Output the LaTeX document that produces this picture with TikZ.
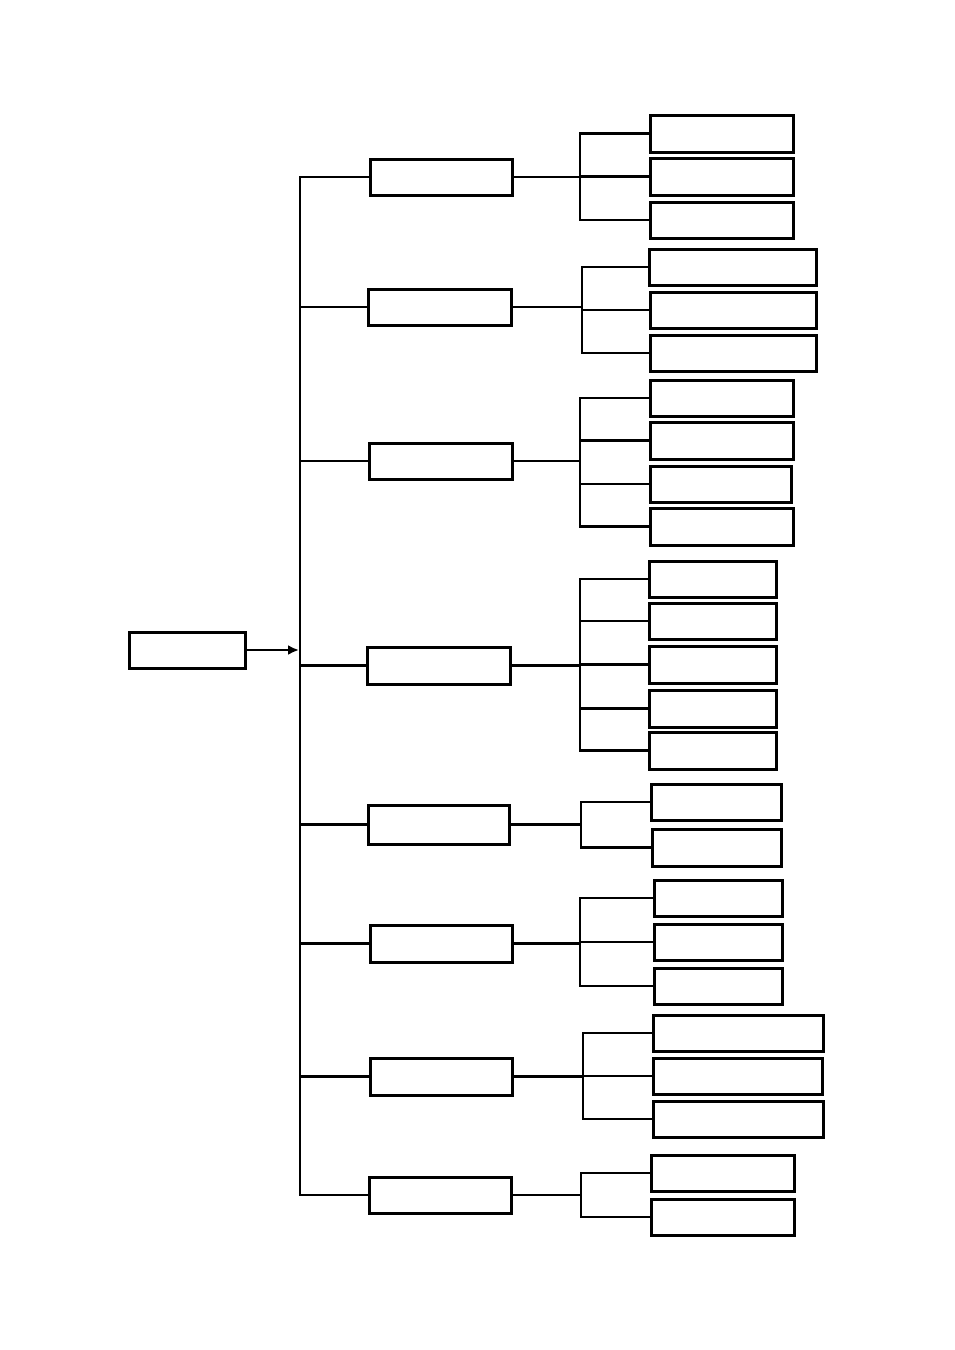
\documentclass[tikz,border=0pt]{standalone}
\usetikzlibrary{arrows.meta}
\newcommand\boxat[5]{\node[box, minimum width={#4pt-#2pt}, minimum height={#5pt-#3pt}] (#1) at ({(#2+#4)/2},{(#3+#5)/2}) {};}
\tikzset{
  box/.style={draw=black, line width=3pt, fill=white, inner sep=0pt, outer sep=0pt},
  ln/.style={draw=black, line width=2.6pt, line cap=rect},
}
\begin{document}
\begin{tikzpicture}[x=1pt,y=-1pt]
\useasboundingbox (0,0) rectangle (954,1350);
% root
\boxat{R}{129}{632}{245}{668}
% level 2
\boxat{B1}{370}{159}{512}{195}
\boxat{B2}{368}{289}{511}{325}
\boxat{B3}{369}{443}{512}{479}
\boxat{B4}{367}{647}{510}{684}
\boxat{B5}{368}{805}{509}{844}
\boxat{B6}{370}{925}{512}{962}
\boxat{B7}{370}{1058}{512}{1095}
\boxat{B8}{369}{1177}{511}{1213}
% leaves
\boxat{L11}{650}{115}{793}{152}
\boxat{L12}{650}{158}{793}{195}
\boxat{L13}{650}{202}{793}{238}
\boxat{L21}{649}{249}{816}{285}
\boxat{L22}{650}{292}{816}{328}
\boxat{L23}{650}{335}{816}{371}
\boxat{L31}{650}{380}{793}{416}
\boxat{L32}{650}{422}{793}{459}
\boxat{L33}{650}{466}{791}{502}
\boxat{L34}{650}{508}{793}{545}
\boxat{L41}{649}{561}{776}{597}
\boxat{L42}{649}{603}{776}{639}
\boxat{L43}{649}{646}{776}{683}
\boxat{L44}{649}{690}{776}{727}
\boxat{L45}{649}{732}{776}{769}
\boxat{L51}{651}{784}{781}{820}
\boxat{L52}{652}{829}{781}{866}
\boxat{L61}{654}{880}{782}{916}
\boxat{L62}{654}{924}{782}{960}
\boxat{L63}{654}{968}{782}{1004}
\boxat{L71}{653}{1015}{823}{1051}
\boxat{L72}{653}{1058}{822}{1094}
\boxat{L73}{653}{1101}{823}{1137}
\boxat{L81}{651}{1155}{794}{1191}
\boxat{L82}{651}{1199}{794}{1235}
% trunk
\coordinate (T) at (300,650);
\draw[ln] (B1.west -| T) -- (B8.west -| T);
\foreach \i in {1,...,8} { \draw[ln] (B\i.west -| T) -- (B\i.west); }
\draw[line width=2.6pt, -{Latex[length=11pt,width=10pt]}] (R.east) -- ([xshift=-1pt]R.east -| T);
% groups
\coordinate (G1) at (580,0);
\coordinate (G2) at (582,0);
\coordinate (G3) at (580,0);
\coordinate (G4) at (580,0);
\coordinate (G5) at (581,0);
\coordinate (G6) at (580,0);
\coordinate (G7) at (583,0);
\coordinate (G8) at (581,0);
\draw[ln] (B1.east) -- (B1.east -| G1);
\draw[ln] (L11.west -| G1) -- (L13.west -| G1);
\foreach \j in {1,2,3} { \draw[ln] (L1\j.west -| G1) -- (L1\j.west); }
\draw[ln] (B2.east) -- (B2.east -| G2);
\draw[ln] (L21.west -| G2) -- (L23.west -| G2);
\foreach \j in {1,2,3} { \draw[ln] (L2\j.west -| G2) -- (L2\j.west); }
\draw[ln] (B3.east) -- (B3.east -| G3);
\draw[ln] (L31.west -| G3) -- (L34.west -| G3);
\foreach \j in {1,...,4} { \draw[ln] (L3\j.west -| G3) -- (L3\j.west); }
\draw[ln] (B4.east) -- (B4.east -| G4);
\draw[ln] (L41.west -| G4) -- (L45.west -| G4);
\foreach \j in {1,...,5} { \draw[ln] (L4\j.west -| G4) -- (L4\j.west); }
\draw[ln] (B5.east) -- (B5.east -| G5);
\draw[ln] (L51.west -| G5) -- (L52.west -| G5);
\foreach \j in {1,2} { \draw[ln] (L5\j.west -| G5) -- (L5\j.west); }
\draw[ln] (B6.east) -- (B6.east -| G6);
\draw[ln] (L61.west -| G6) -- (L63.west -| G6);
\foreach \j in {1,2,3} { \draw[ln] (L6\j.west -| G6) -- (L6\j.west); }
\draw[ln] (B7.east) -- (B7.east -| G7);
\draw[ln] (L71.west -| G7) -- (L73.west -| G7);
\foreach \j in {1,2,3} { \draw[ln] (L7\j.west -| G7) -- (L7\j.west); }
\draw[ln] (B8.east) -- (B8.east -| G8);
\draw[ln] (L81.west -| G8) -- (L82.west -| G8);
\foreach \j in {1,2} { \draw[ln] (L8\j.west -| G8) -- (L8\j.west); }
\end{tikzpicture}
\end{document}
